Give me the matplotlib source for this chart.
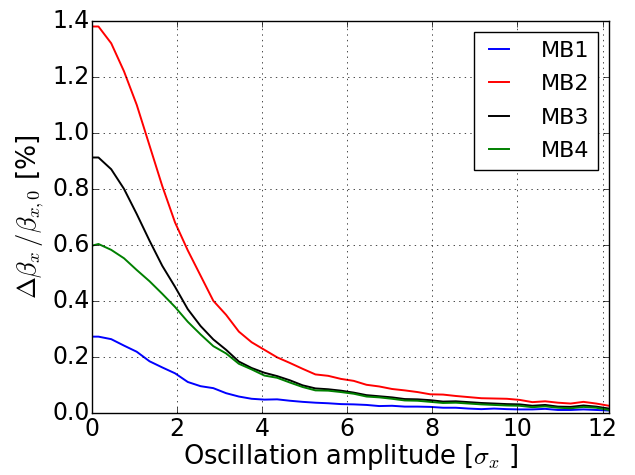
import matplotlib
matplotlib.use('Agg')
import matplotlib.pyplot as plt

plt.style.use('classic')

# oscillation amplitude in units of sigma_x
amp = [0.0, 0.15, 0.45, 0.75, 1.05, 1.35, 1.65, 1.95, 2.25, 2.55, 2.85,
       3.15, 3.45, 3.75, 4.05, 4.35, 4.65, 4.95, 5.25, 5.55, 5.85, 6.15,
       6.45, 6.75, 7.05, 7.35, 7.65, 7.95, 8.25, 8.55, 8.85, 9.15, 9.45,
       9.75, 10.05, 10.35, 10.65, 10.95, 11.25, 11.55, 11.85, 12.15]

# beta-beating in percent
mb1 = [0.272, 0.272, 0.263, 0.240, 0.218, 0.184, 0.162, 0.141, 0.110, 0.095, 0.088,
       0.070, 0.058, 0.050, 0.047, 0.048, 0.043, 0.039, 0.036, 0.034, 0.031, 0.030,
       0.028, 0.024, 0.025, 0.022, 0.022, 0.021, 0.018, 0.018, 0.015, 0.013, 0.015,
       0.013, 0.012, 0.012, 0.014, 0.010, 0.010, 0.012, 0.010, 0.008]
mb2 = [1.380, 1.380, 1.320, 1.220, 1.100, 0.955, 0.810, 0.680, 0.580, 0.490, 0.400,
       0.350, 0.290, 0.252, 0.225, 0.198, 0.178, 0.157, 0.137, 0.132, 0.121, 0.114,
       0.100, 0.094, 0.085, 0.080, 0.074, 0.066, 0.065, 0.060, 0.056, 0.052, 0.051,
       0.050, 0.046, 0.038, 0.041, 0.036, 0.033, 0.039, 0.033, 0.025]
mb3 = [0.912, 0.912, 0.870, 0.800, 0.710, 0.615, 0.525, 0.450, 0.370, 0.310, 0.262,
       0.225, 0.183, 0.160, 0.143, 0.131, 0.116, 0.098, 0.087, 0.084, 0.079, 0.072,
       0.063, 0.059, 0.055, 0.049, 0.048, 0.045, 0.040, 0.041, 0.038, 0.035, 0.033,
       0.031, 0.030, 0.025, 0.028, 0.022, 0.021, 0.026, 0.022, 0.015]
mb4 = [0.597, 0.603, 0.582, 0.552, 0.510, 0.470, 0.425, 0.378, 0.325, 0.280, 0.238,
       0.212, 0.175, 0.155, 0.133, 0.125, 0.108, 0.092, 0.080, 0.079, 0.074, 0.068,
       0.058, 0.055, 0.050, 0.044, 0.043, 0.039, 0.035, 0.036, 0.033, 0.030, 0.028,
       0.026, 0.025, 0.020, 0.023, 0.018, 0.016, 0.021, 0.018, 0.010]

fig = plt.figure(figsize=(6.35, 4.75), dpi=100)
fig.subplots_adjust(left=0.145, right=0.959, top=0.956, bottom=0.131)
ax = fig.add_subplot(111)

ax.plot(amp, mb1, 'b', lw=1.4, label='MB1')
ax.plot(amp, mb2, 'r', lw=1.4, label='MB2')
ax.plot(amp, mb3, 'k', lw=1.4, label='MB3')
ax.plot(amp, mb4, 'g', lw=1.4, label='MB4')

ax.set_xlim(0, 12.15)
ax.set_ylim(0, 1.4)
ax.set_xticks(range(0, 13, 2))
ax.set_yticks([0.0, 0.2, 0.4, 0.6, 0.8, 1.0, 1.2, 1.4])
ax.tick_params(labelsize=17)
ax.tick_params(axis='y', pad=1.5)
ax.tick_params(axis='x', pad=3)
ax.grid(True)

ax.set_xlabel(r'Oscillation amplitude [$\sigma_x$ ]', fontsize=18.5, labelpad=1)
ax.set_ylabel(r'$\Delta\beta_x\,/\beta_{x,0}$ [%]', fontsize=19)

ax.legend(loc='upper right', fontsize=16, handlelength=1.5, handletextpad=1.1,
          labelspacing=0.6)

fig.savefig('out.png', dpi=100)
